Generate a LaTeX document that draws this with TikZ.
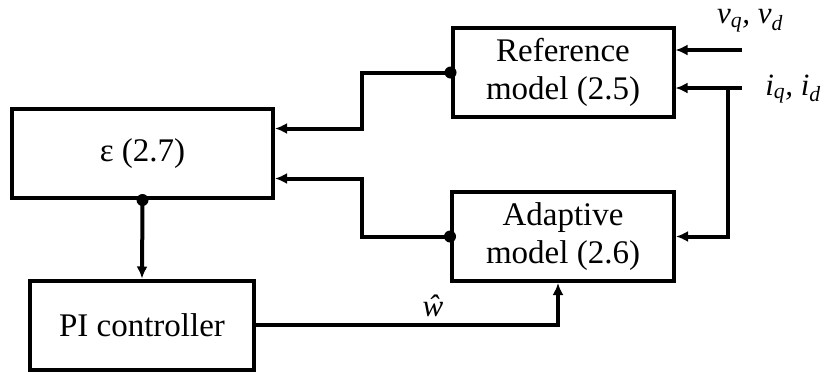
\documentclass[tikz,border=0pt]{standalone}
\usepackage{fontspec}
\setmainfont{Liberation Serif}
\usetikzlibrary{arrows.meta}
\newcommand{\sbx}[1]{\textsubscript{\textit{#1}}}
\begin{document}
\begin{tikzpicture}[x=1pt,y=-1pt,
  blk/.style={draw,line width=4pt,minimum width=#1,minimum height=89pt,inner sep=0pt,align=center,font=\fontsize{33}{38}\selectfont},
  blk/.default=220pt,
  wire/.style={line width=4pt},
  arr/.style={wire,-{Latex[length=12pt,width=11pt]}},
  dotc/.style={circle,fill,inner sep=0pt,minimum size=12pt},
  lbl/.style={inner sep=0pt,font=\fontsize{31}{36}\selectfont\itshape}]
\useasboundingbox (0,0) rectangle (829,376);
\node[blk=221pt] (ref) at (563,72.5) {Reference\\model (2.5)};
\node[blk=222pt] (ada) at (563,236.5) {Adaptive\\model (2.6)};
\node[blk=261pt] (eps) at (142.5,153.5) {ε (2.7)};
\node[blk=224pt] (pi) at (142,325) {PI controller};
\coordinate (vin) at (742,50);
\coordinate (iin) at (742,88);
\coordinate (br) at (728,88);
\coordinate (xr) at (362,0);
\node[lbl] (vl) at (750,21) {v\sbx{q}, v\sbx{d}};
\node[lbl] (il) at (793,89) {i\sbx{q}, i\sbx{d}};
\node[lbl] (wl) at (433,306) {ŵ};
% inputs
\draw[arr] (vin) -- (vin -| ref.east);
\draw[arr] (iin) -- (iin -| ref.east);
\draw[arr] (br) |- (ada.east);
% feedback to eps
\draw[arr] (ref.west) -| (xr |- eps.north) |- ([yshift=25pt]eps.east);
\draw[arr] (ada.west) -| (xr |- eps.south) |- ([yshift=-25pt]eps.east);
\draw[arr] (eps.south) -- (pi.north);
\draw[arr] (pi.east) -| ([xshift=-5pt]ada.south);
\node[dotc] at (ref.west) {};
\node[dotc] at (ada.west) {};
\node[dotc] at (eps.south) {};
\end{tikzpicture}
\end{document}
